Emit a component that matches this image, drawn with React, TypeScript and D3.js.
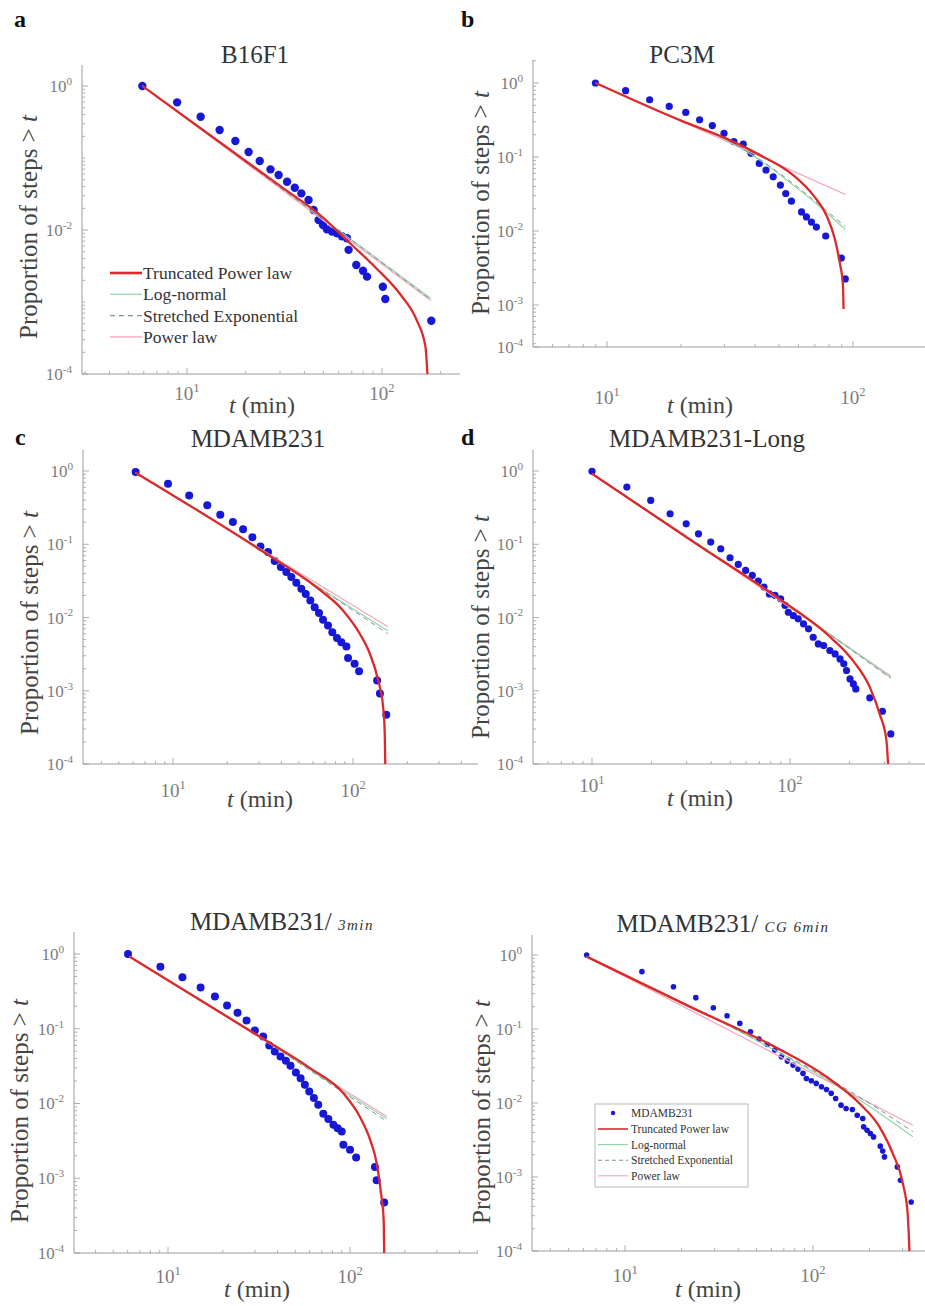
import React, {useEffect, useRef} from 'react';
import * as d3 from 'd3';

type Pt = [number, number];

// step-duration survival data, [t (min), proportion of steps > t]
const b16f1Steps: Pt[] = [[5.9,1],[8.9,0.593],[11.75,0.375],[14.7,0.245],[17.7,0.172],[20.7,0.121],[23.6,0.091],[26.8,0.0696],[29.5,0.058],[32.6,0.0469],[35.7,0.0387],[38.6,0.0323],[42,0.0261],[44.6,0.019],[47.3,0.0138],[49.8,0.0117],[52.2,0.0102],[55.4,0.0095],[58.8,0.009],[62.3,0.0082],[66.1,0.0077],[67.4,0.0053],[73.8,0.00327],[79.9,0.00272],[83.8,0.00225],[101,0.00163],[104,0.0011],[179,0.00055]];
const b16f1Tpl: Pt[] = [[5.9,1],[30,0.041],[50,0.0148],[66,0.0072],[94,0.0029],[124,0.00128],[151,0.00055],[167,0.00024],[171,0.0001]];
const b16f1LogNormal: Pt[] = [[5.9,1],[30,0.04],[80,0.0056],[178,0.00112]];
const b16f1Stretched: Pt[] = [[5.9,1],[30,0.039],[80,0.0055],[178,0.00108]];
const b16f1Power: Pt[] = [[5.9,1],[178,0.00105]];

const pc3mSteps: Pt[] = [[8.97,1],[11.9,0.787],[14.9,0.594],[17.9,0.482],[20.9,0.4],[23.8,0.318],[26.8,0.266],[29.9,0.209],[32.8,0.161],[35.8,0.149],[38.5,0.112],[41.6,0.082],[44.3,0.0667],[47.4,0.054],[50.7,0.0417],[53.3,0.0321],[56.2,0.0253],[61.8,0.0181],[64.7,0.0155],[67.8,0.0132],[71,0.0113],[77.5,0.00855],[89.7,0.0043],[93.1,0.00225]];
const pc3mTpl: Pt[] = [[9,1],[20,0.31],[30.6,0.177],[41.9,0.106],[57.1,0.057],[68.9,0.0305],[78,0.0163],[84.3,0.0079],[88.3,0.0038],[91.1,0.00183],[91.6,0.00088]];
const pc3mLogNormal: Pt[] = [[9,1],[20,0.31],[30,0.175],[40,0.1],[57,0.042],[75,0.02],[93,0.0105]];
const pc3mStretched: Pt[] = [[9,1],[20,0.31],[30,0.176],[40,0.102],[57,0.044],[75,0.021],[93,0.0115]];
const pc3mPower: Pt[] = [[9,1],[93.3,0.0311]];

const mdaSteps: Pt[] = [[6.2,0.97],[9.38,0.671],[12.3,0.465],[15.5,0.34],[18.3,0.253],[21.5,0.201],[24.5,0.16],[27.6,0.125],[30.6,0.0934],[33.7,0.0782],[36.7,0.0589],[39.7,0.0488],[42.6,0.0417],[45.4,0.0356],[48.4,0.0298],[51.6,0.0247],[54.6,0.021],[57.9,0.0171],[61.2,0.0138],[64.7,0.0115],[68.1,0.0093],[72.6,0.00778],[76.7,0.0063],[81.4,0.00527],[86.1,0.0046],[91.8,0.00402],[93.8,0.00281],[102,0.00233],[108,0.00185],[136,0.00138],[141,0.00092],[153,0.00047]];
const mdaTpl: Pt[] = [[6.2,0.95],[33,0.0741],[62.5,0.026],[87.9,0.0125],[109,0.006],[124,0.0032],[138,0.00138],[147,0.00059],[150,0.00026],[151,0.0001]];
const mdaLogNormal: Pt[] = [[6.2,0.95],[33,0.076],[80,0.0185],[156,0.0066]];
const mdaStretched: Pt[] = [[6.2,0.95],[33,0.075],[80,0.018],[156,0.006]];
const mdaPower: Pt[] = [[6.2,0.95],[156,0.0075]];

const mdaLongSteps: Pt[] = [[10,0.99],[15,0.604],[19.8,0.397],[24.8,0.261],[29.9,0.19],[34.5,0.139],[39.8,0.107],[44.7,0.0868],[49.8,0.0654],[54.8,0.053],[59.7,0.0439],[64.5,0.0375],[69.2,0.0314],[73.9,0.026],[78.7,0.021],[84,0.02],[89.7,0.018],[94.4,0.0146],[98.1,0.0118],[104,0.0106],[110,0.0096],[117,0.0082],[124,0.007],[131,0.00538],[139,0.00436],[148,0.00414],[159,0.00354],[169,0.00318],[179,0.00272],[187,0.00233],[193,0.00189],[201,0.00145],[209,0.00124],[215,0.00106],[253,0.0008],[293,0.000525],[323,0.000257]];
const mdaLongTpl: Pt[] = [[10,0.92],[32.6,0.107],[85.7,0.019],[153,0.006],[208,0.00258],[253,0.00112],[284,0.00048],[307,0.00021],[313,0.0001]];
const mdaLongLogNormal: Pt[] = [[10,0.92],[85,0.0195],[323,0.00152]];
const mdaLongStretched: Pt[] = [[10,0.92],[85,0.0192],[323,0.00148]];
const mdaLongPower: Pt[] = [[10,0.92],[323,0.00159]];

const mda3Steps: Pt[] = [[6.03,1],[9.08,0.677],[12,0.488],[15.1,0.355],[18.1,0.269],[21.1,0.204],[24.1,0.164],[27,0.129],[30,0.0946],[33.3,0.0786],[36,0.0596],[38.6,0.0495],[41.5,0.0425],[44.4,0.0372],[47.1,0.0319],[50.4,0.0259],[53.5,0.0218],[56.5,0.0178],[59.7,0.0145],[63.3,0.0118],[66.9,0.0096],[71.3,0.00727],[76,0.00618],[81,0.00519],[85.5,0.00468],[90,0.00422],[91.9,0.0028],[100,0.0024],[108,0.0019],[137,0.00141],[140,0.00094],[154,0.000475]];
const mda3Tpl: Pt[] = [[6.14,0.92],[32,0.078],[60.3,0.0297],[91.9,0.0137],[113,0.0067],[129,0.00327],[140,0.0016],[148,0.00063],[153,0.00028],[154,0.0001]];
const mda3LogNormal: Pt[] = [[6.14,0.92],[32,0.078],[80,0.018],[159,0.0063]];
const mda3Stretched: Pt[] = [[6.14,0.92],[32,0.077],[80,0.0175],[159,0.0058]];
const mda3Power: Pt[] = [[6.14,0.92],[159,0.0067]];

const mda6Steps: Pt[] = [[6.25,1],[12.3,0.595],[18.1,0.373],[23.8,0.265],[29.5,0.194],[34.9,0.151],[40.8,0.119],[46.5,0.0918],[51.6,0.0731],[57.2,0.0618],[62.6,0.0519],[67.9,0.0421],[73.1,0.0368],[78.3,0.0325],[83.2,0.0287],[88.5,0.0251],[92.2,0.0214],[98,0.02],[104,0.0184],[111,0.0166],[118,0.0152],[125,0.0135],[132,0.0115],[141,0.00935],[150,0.00843],[162,0.00817],[172,0.00684],[184,0.00617],[186,0.00476],[194,0.00429],[202,0.00387],[210,0.00348],[228,0.00261],[235,0.00225],[240,0.00187],[281,0.00137],[292,0.000904],[333,0.00046]];
const mda6Tpl: Pt[] = [[6.25,0.95],[23.1,0.19],[63.8,0.056],[118,0.0226],[177,0.00984],[226,0.00476],[266,0.00207],[301,0.00081],[319,0.00032],[326,0.0001]];
const mda6LogNormal: Pt[] = [[6.25,0.95],[64,0.05],[150,0.0145],[340,0.0035]];
const mda6Stretched: Pt[] = [[6.25,0.95],[64,0.051],[150,0.0155],[340,0.0041]];
const mda6Power: Pt[] = [[6.25,0.95],[340,0.005]];

const xTickValues = [10, 100];
const yTickValues = [1, 0.1, 0.01, 0.001, 0.0001];
const yTickValuesB16F1 = [1, 0.01, 0.0001];
const fitNames = ['Truncated Power law', 'Log-normal', 'Stretched Exponential', 'Power law'];
const dataName = 'MDAMB231';

const serif = '"Liberation Serif", "Times New Roman", serif';
const colors = {
    dot: '#1717d6',
    tpl: '#dc2a2c',
    logNormal: '#8fd6a6',
    stretched: '#7d9797',
    power: '#f2a5b8',
    axis: '#9c9c9c',
    tick: '#7c7c7c',
    label: '#444',
    title: '#333'
};

const panels = [
    {letter: 'a', letterPos: [14, 27], title: 'B16F1', sub: '', titlePos: [255, 63],
        steps: b16f1Steps, tpl: b16f1Tpl, logNormal: b16f1LogNormal, stretched: b16f1Stretched, power: b16f1Power,
        left: 82, right: 460, top: 65, bottom: 374, xDomain: [10 ** 0.4615, 10 ** 2.4], yDomain: [1e-4, 10 ** 0.292],
        yTicks: yTickValuesB16F1, xTickDy: 26, xLabel: [262, 413], yLabelPos: [37, 227], dotR: 4.2, legend: 'plain'},
    {letter: 'b', letterPos: [461, 27], title: 'PC3M', sub: '', titlePos: [682, 63],
        steps: pc3mSteps, tpl: pc3mTpl, logNormal: pc3mLogNormal, stretched: pc3mStretched, power: pc3mPower,
        left: 533, right: 925, top: 60, bottom: 347, xDomain: [10 ** 0.699, 10 ** 2.293], yDomain: [10 ** -3.568, 10 ** 0.311],
        yTicks: yTickValues, xTickDy: 57, xLabel: [700, 413], yLabelPos: [489, 203], dotR: 3.6, legend: ''},
    {letter: 'c', letterPos: [15, 445], title: 'MDAMB231', sub: '', titlePos: [258, 447],
        steps: mdaSteps, tpl: mdaTpl, logNormal: mdaLogNormal, stretched: mdaStretched, power: mdaPower,
        left: 83, right: 478, top: 450, bottom: 764, xDomain: [10 ** 0.5, 10 ** 2.694], yDomain: [1e-4, 10 ** 0.287],
        yTicks: yTickValues, xTickDy: 33, xLabel: [260, 807], yLabelPos: [38, 623], dotR: 4, legend: ''},
    {letter: 'd', letterPos: [461, 445], title: 'MDAMB231-Long', sub: '', titlePos: [707, 447],
        steps: mdaLongSteps, tpl: mdaLongTpl, logNormal: mdaLongLogNormal, stretched: mdaLongStretched, power: mdaLongPower,
        left: 533, right: 925, top: 450, bottom: 764, xDomain: [10 ** 0.702, 10 ** 2.682], yDomain: [1e-4, 10 ** 0.287],
        yTicks: yTickValues, xTickDy: 28, xLabel: [700, 806], yLabelPos: [489, 627], dotR: 3.6, legend: ''},
    {letter: '', letterPos: [0, 0], title: 'MDAMB231/ ', sub: '3min', titlePos: [282, 930],
        steps: mda3Steps, tpl: mda3Tpl, logNormal: mda3LogNormal, stretched: mda3Stretched, power: mda3Power,
        left: 74, right: 478, top: 932, bottom: 1253, xDomain: [10 ** 0.4835, 10 ** 2.703], yDomain: [1e-4, 10 ** 0.294],
        yTicks: yTickValues, xTickDy: 30, xLabel: [257, 1297], yLabelPos: [28, 1111], dotR: 4, legend: ''},
    {letter: '', letterPos: [0, 0], title: 'MDAMB231/ ', sub: 'CG 6min', titlePos: [723, 932],
        steps: mda6Steps, tpl: mda6Tpl, logNormal: mda6LogNormal, stretched: mda6Stretched, power: mda6Power,
        left: 532, right: 925, top: 935, bottom: 1251, xDomain: [10 ** 0.505, 10 ** 2.596], yDomain: [1e-4, 10 ** 0.27],
        yTicks: yTickValues, xTickDy: 31, xLabel: [708, 1297], yLabelPos: [490, 1112], dotR: 2.8, legend: 'boxed'}
];

const addPower = (text, v, fs) => {
    const e = Math.round(Math.log10(v));
    text.append('tspan').text('10');
    text.append('tspan').attr('dy', -fs * 0.42).attr('font-size', fs * 0.66).text(String(e));
};

const drawPanel = (svg, cfg, i) => {
    const x = d3.scaleLog().domain(cfg.xDomain).range([cfg.left, cfg.right]);
    const y = d3.scaleLog().domain(cfg.yDomain).range([cfg.bottom, cfg.top]).clamp(true);
    const g = svg.append('g').attr('font-family', serif);

    const clipId = `plot-clip-${i}`;
    g.append('clipPath').attr('id', clipId).append('rect')
        .attr('x', cfg.left).attr('y', cfg.top - 5)
        .attr('width', cfg.right - cfg.left).attr('height', cfg.bottom - cfg.top + 6);

    // minor / major ticks, pointing inward like MATLAB
    const xMin = cfg.xDomain[0], xMax = cfg.xDomain[1];
    const xMinor = [];
    for (let n = 0; n <= 3; n++) for (let k = 1; k <= 9; k++) {
        const v = k * 10 ** n;
        if (v > xMin && v < xMax && !xTickValues.includes(v)) xMinor.push(v);
    }
    g.selectAll('.xminor').data(xMinor).join('line')
        .attr('x1', d => x(d)).attr('x2', d => x(d))
        .attr('y1', cfg.bottom).attr('y2', cfg.bottom - 3)
        .attr('stroke', colors.axis).attr('stroke-width', 0.8);
    g.selectAll('.xmajor').data(xTickValues).join('line')
        .attr('x1', d => x(d)).attr('x2', d => x(d))
        .attr('y1', cfg.bottom).attr('y2', cfg.bottom - 6)
        .attr('stroke', colors.axis).attr('stroke-width', 0.8);

    const yMinor = [];
    for (let n = -4; n <= 0; n++) for (let k = 1; k <= 9; k++) {
        const v = k * 10 ** n;
        if (v > cfg.yDomain[0] && v < cfg.yDomain[1] && !cfg.yTicks.some(t => Math.abs(t - v) < v * 1e-6)) yMinor.push(v);
    }
    g.selectAll('.yminor').data(yMinor).join('line')
        .attr('x1', cfg.left).attr('x2', cfg.left + 3)
        .attr('y1', d => y(d)).attr('y2', d => y(d))
        .attr('stroke', colors.axis).attr('stroke-width', 0.8);
    g.selectAll('.ymajor').data(cfg.yTicks).join('line')
        .attr('x1', cfg.left).attr('x2', cfg.left + 6)
        .attr('y1', d => y(d)).attr('y2', d => y(d))
        .attr('stroke', colors.axis).attr('stroke-width', 0.8);

    g.append('line')
        .attr('x1', cfg.left).attr('x2', cfg.left)
        .attr('y1', cfg.top).attr('y2', cfg.bottom)
        .attr('stroke', colors.axis).attr('stroke-width', 1);
    g.append('line')
        .attr('x1', cfg.left).attr('x2', cfg.right)
        .attr('y1', cfg.bottom).attr('y2', cfg.bottom)
        .attr('stroke', colors.axis).attr('stroke-width', 1);

    xTickValues.forEach(v => {
        const t = g.append('text')
            .attr('x', x(v)).attr('y', cfg.bottom + cfg.xTickDy)
            .attr('text-anchor', 'middle').attr('font-size', 19).attr('fill', colors.tick);
        addPower(t, v, 19);
    });
    cfg.yTicks.forEach(v => {
        const t = g.append('text')
            .attr('x', cfg.left - 10).attr('y', y(v) + 6)
            .attr('text-anchor', 'end').attr('font-size', 17).attr('fill', colors.tick);
        addPower(t, v, 17);
    });

    // axis labels
    const xl = g.append('text')
        .attr('x', cfg.xLabel[0]).attr('y', cfg.xLabel[1])
        .attr('text-anchor', 'middle').attr('font-size', 24).attr('fill', colors.label);
    xl.append('tspan').attr('font-style', 'italic').text('t');
    xl.append('tspan').text(' (min)');

    const yl = g.append('text')
        .attr('transform', `translate(${cfg.yLabelPos[0]},${cfg.yLabelPos[1]}) rotate(-90)`)
        .attr('text-anchor', 'middle').attr('font-size', 25).attr('fill', colors.label);
    yl.append('tspan').text('Proportion of steps > ');
    yl.append('tspan').attr('font-style', 'italic').text('t');

    // title
    const tt = g.append('text')
        .attr('x', cfg.titlePos[0]).attr('y', cfg.titlePos[1])
        .attr('text-anchor', 'middle').attr('font-size', 25).attr('fill', colors.title);
    tt.append('tspan').text(cfg.title);
    if (cfg.sub) tt.append('tspan').attr('font-size', 15).attr('font-style', 'italic')
        .attr('letter-spacing', 1.5).text(cfg.sub);

    if (cfg.letter) {
        g.append('text')
            .attr('x', cfg.letterPos[0]).attr('y', cfg.letterPos[1])
            .attr('font-size', 24).attr('font-weight', 'bold').attr('fill', '#111')
            .text(cfg.letter);
    }

    // data points
    const plot = g.append('g').attr('clip-path', `url(#${clipId})`);
    plot.selectAll('.step').data(cfg.steps).join('circle')
        .attr('cx', d => x(d[0])).attr('cy', d => y(d[1]))
        .attr('r', cfg.dotR).attr('fill', colors.dot);

    const line = d3.line<Pt>()
        .x(d => x(d[0]))
        .y(d => y(d[1]))
        .curve(d3.curveMonotoneX);

    plot.append('path').attr('d', line(cfg.power))
        .attr('fill', 'none').attr('stroke', colors.power).attr('stroke-width', 1.2);
    plot.append('path').attr('d', line(cfg.logNormal))
        .attr('fill', 'none').attr('stroke', colors.logNormal).attr('stroke-width', 1.1);
    plot.append('path').attr('d', line(cfg.stretched))
        .attr('fill', 'none').attr('stroke', colors.stretched).attr('stroke-width', 1)
        .attr('stroke-dasharray', '5,4');
    plot.append('path').attr('d', line(cfg.tpl))
        .attr('fill', 'none').attr('stroke', colors.tpl).attr('stroke-width', 2.3);

    const styles = [
        {stroke: colors.tpl, width: 2.6, dash: null},
        {stroke: colors.logNormal, width: 1.2, dash: null},
        {stroke: colors.stretched, width: 1.1, dash: '5,4'},
        {stroke: colors.power, width: 1.3, dash: null}
    ];

    if (cfg.legend === 'plain') {
        const lg = g.append('g');
        fitNames.forEach((name, k) => {
            const by = 279 + k * 21.3;
            lg.append('line').attr('x1', 110).attr('x2', 142).attr('y1', by - 6).attr('y2', by - 6)
                .attr('stroke', styles[k].stroke).attr('stroke-width', styles[k].width)
                .attr('stroke-dasharray', styles[k].dash);
            lg.append('text').attr('x', 143).attr('y', by).attr('font-size', 17.5)
                .attr('fill', '#333').text(name);
        });
    }

    if (cfg.legend === 'boxed') {
        const lg = g.append('g');
        lg.append('rect').attr('x', 595).attr('y', 1104).attr('width', 153).attr('height', 83)
            .attr('fill', '#fff').attr('stroke', '#a8a8a8').attr('stroke-width', 0.8);
        lg.append('circle').attr('cx', 613).attr('cy', 1113).attr('r', 2.2).attr('fill', colors.dot);
        lg.append('text').attr('x', 631).attr('y', 1117).attr('font-size', 11.5)
            .attr('fill', '#333').text(dataName);
        fitNames.forEach((name, k) => {
            const by = 1133 + k * 15.6;
            lg.append('line').attr('x1', 598).attr('x2', 628).attr('y1', by - 4).attr('y2', by - 4)
                .attr('stroke', styles[k].stroke).attr('stroke-width', k === 0 ? 1.6 : 1.1)
                .attr('stroke-dasharray', styles[k].dash ? '4,3' : null);
            lg.append('text').attr('x', 631).attr('y', by).attr('font-size', 11.5)
                .attr('fill', '#333').text(name);
        });
    }
};

const App = () => {
    const svgRef = useRef<SVGSVGElement>(null);

    useEffect(() => {
        const svg = d3.select(svgRef.current);
        svg.selectAll('*').remove();
        panels.forEach((cfg, i) => drawPanel(svg, cfg, i));
    }, []);

    return (
        <svg ref={svgRef} width={925} height={1306}
            style={{position: 'absolute', left: 0, top: 0, background: '#fff'}}/>
    );
};

export default App;
